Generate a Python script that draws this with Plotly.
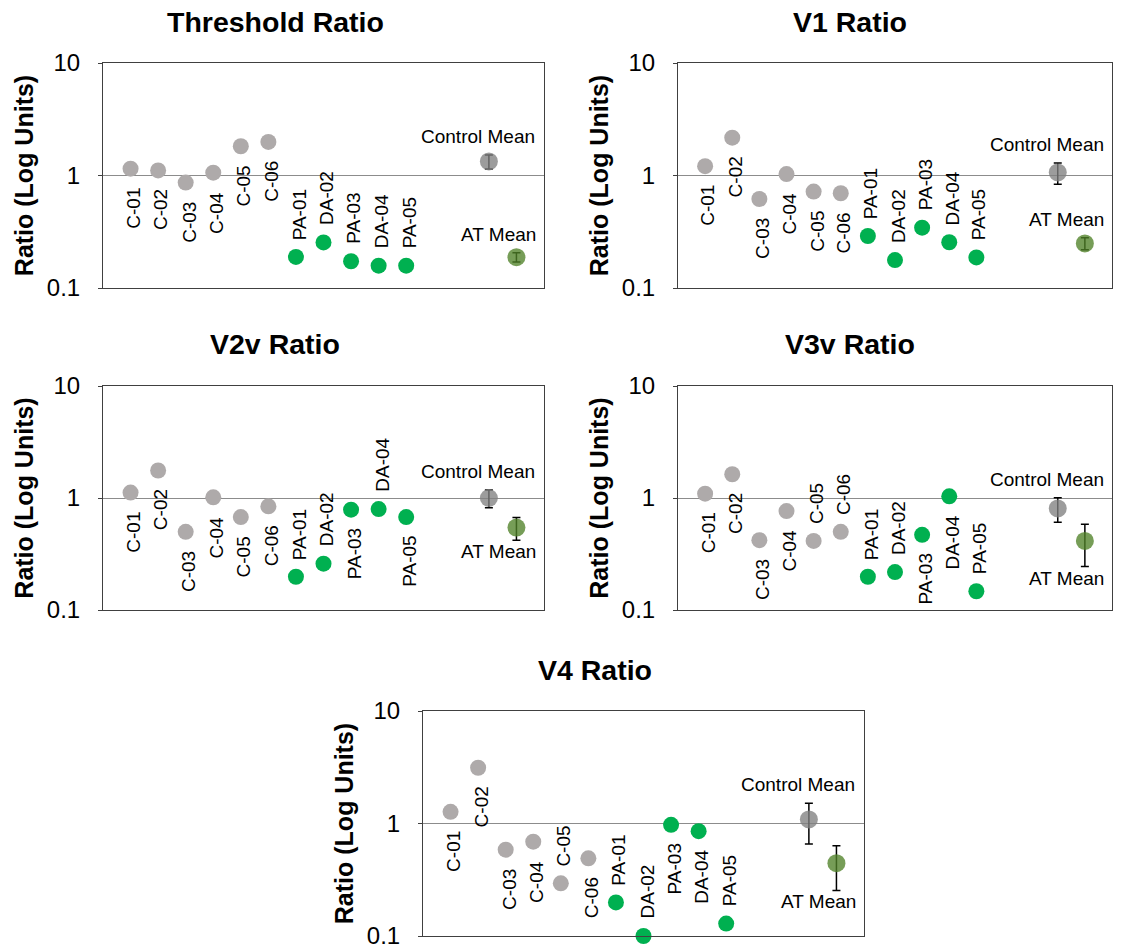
import math
import plotly.graph_objects as go

# ---- data ---------------------------------------------------------------
subjects = ["C-01", "C-02", "C-03", "C-04", "C-05", "C-06",
            "PA-01", "DA-02", "PA-03", "DA-04", "PA-05"]
n_controls = 6
mean_names = ["Control Mean", "AT Mean"]

panel_titles = ["Threshold Ratio", "V1 Ratio", "V2v Ratio", "V3v Ratio", "V4 Ratio"]

threshold_ratio = [1.15, 1.11, 0.865, 1.06, 1.82, 1.99, 0.189, 0.254, 0.173, 0.158, 0.158]
v1_ratio = [1.21, 2.17, 0.618, 1.03, 0.719, 0.695, 0.290, 0.177, 0.344, 0.255, 0.187]
v2v_ratio = [1.117, 1.76, 0.499, 1.014, 0.675, 0.842, 0.198, 0.259, 0.786, 0.797, 0.675]
v3v_ratio = [1.094, 1.63, 0.420, 0.764, 0.414, 0.499, 0.198, 0.218, 0.469, 1.035, 0.147]
v4_ratio = [1.27, 3.13, 0.585, 0.690, 0.294, 0.490, 0.199, 0.100, 0.973, 0.854, 0.129]

threshold_means = [1.335, 0.188]
threshold_sem = [0.19, 0.018]
v1_means = [1.064, 0.249]
v1_sem = [0.23, 0.03]
v2v_means = [1.0, 0.545]
v2v_sem = [0.18, 0.125]
v3v_means = [0.807, 0.414]
v3v_sem = [0.20, 0.17]
v4_means = [1.086, 0.444]
v4_sem = [0.43, 0.19]

# data-label placement ("a" = above the marker, "b" = below)
threshold_lab = ["b", "b", "b", "b", "b", "b", "a", "a", "a", "a", "a"]
v1_lab = ["b", "b", "b", "b", "b", "b", "a", "a", "a", "a", "a"]
v2v_lab = ["b", "b", "b", "b", "b", "b", "a", "a", "b", "a", "b"]
v3v_lab = ["b", "b", "b", "b", "a", "a", "a", "a", "b", "b", "a"]
v4_lab = ["b", "b", "b", "b", "a", "b", "a", "a", "b", "b", "a"]

threshold_mean_lab = ["a", "a"]
v1_mean_lab = ["a", "a"]
v2v_mean_lab = ["a", "b"]
v3v_mean_lab = ["a", "b"]
v4_mean_lab = ["a", "b"]

# ---- layout / style -----------------------------------------------------
W, H = 1128, 951
FONT = "Arial, 'Liberation Sans', sans-serif"
GRAY = "#AEAAAA"
GREEN = "#00B050"
MEAN_COLORS = ["rgba(128,128,128,0.78)", "rgba(79,129,40,0.78)"]
FRAME = "#404040"
GRID = "#8C8C8C"

# plot-area boxes in pixels: left, top, right, bottom
boxes = [
    (103, 63, 544, 288),
    (678, 63, 1112, 288),
    (103, 386, 544, 610),
    (678, 386, 1112, 610),
    (423, 711, 864, 936),
]
title_pos = [(275, 22), (850, 22), (275, 344), (850, 344), (595, 670)]

panels = [
    (threshold_ratio, threshold_lab, threshold_means, threshold_sem, threshold_mean_lab),
    (v1_ratio, v1_lab, v1_means, v1_sem, v1_mean_lab),
    (v2v_ratio, v2v_lab, v2v_means, v2v_sem, v2v_mean_lab),
    (v3v_ratio, v3v_lab, v3v_means, v3v_sem, v3v_mean_lab),
    (v4_ratio, v4_lab, v4_means, v4_sem, v4_mean_lab),
]

subject_x = list(range(1, len(subjects) + 1))
mean_x = [len(subjects) + 3, len(subjects) + 4]

fig = go.Figure()
annotations = []
layout_axes = {}

for i, (vals, labs, means, sems, mlabs) in enumerate(panels):
    sfx = "" if i == 0 else str(i + 1)
    xa, ya = "x" + sfx, "y" + sfx
    colors = [GRAY] * n_controls + [GREEN] * (len(subjects) - n_controls)

    fig.add_trace(go.Scatter(
        x=subject_x, y=vals, mode="markers",
        marker=dict(size=16, color=colors, line=dict(width=0)),
        xaxis=xa, yaxis=ya, cliponaxis=False, showlegend=False,
        hovertext=subjects,
    ))
    for k in range(2):
        fig.add_trace(go.Scatter(
            x=[mean_x[k]], y=[means[k]], mode="markers",
            marker=dict(size=18, color=MEAN_COLORS[k], line=dict(width=0)),
            error_y=dict(type="data", array=[sems[k]], color="black",
                         thickness=1.5, width=4),
            xaxis=xa, yaxis=ya, cliponaxis=False, showlegend=False,
            hovertext=[mean_names[k]],
        ))

    # rotated subject labels
    for xv, yv, name, pos in zip(subject_x, vals, subjects, labs):
        annotations.append(dict(
            x=xv, y=math.log10(yv), xref=xa, yref=ya, text=name,
            textangle=-90, showarrow=False, xshift=3,
            yanchor="bottom" if pos == "a" else "top",
            yshift=15 if pos == "a" else -17,
            font=dict(family=FONT, size=19, color="black"),
        ))

    # mean labels sit just past the end of the error bar
    for k in range(2):
        if mlabs[k] == "a":
            yv, anc, ysh = means[k] + sems[k], "bottom", 6
        else:
            yv, anc, ysh = means[k] - sems[k], "top", 1
        annotations.append(dict(
            x=mean_x[k], y=math.log10(yv), xref=xa, yref=ya,
            text=mean_names[k], showarrow=False,
            xshift=-11 if k == 0 else -18, yanchor=anc, yshift=ysh,
            font=dict(family=FONT, size=19, color="black"),
        ))

    # panel title
    tx, ty = title_pos[i]
    annotations.append(dict(
        x=tx / W, y=1 - ty / H, xref="paper", yref="paper",
        text="<b>%s</b>" % panel_titles[i], showarrow=False,
        xanchor="center", yanchor="middle",
        font=dict(family=FONT, size=28.5, color="black"),
    ))

    l, t, r, b = boxes[i]
    layout_axes["xaxis" + sfx] = dict(
        domain=[l / W, r / W], range=[0, len(subjects) + 5], anchor=ya,
        showline=True, mirror=True, linecolor=FRAME, linewidth=1,
        showgrid=False, zeroline=False, showticklabels=False, ticks="",
        automargin=False, fixedrange=True,
    )
    layout_axes["yaxis" + sfx] = dict(
        domain=[1 - b / H, 1 - t / H], type="log", range=[-1, 1], anchor=xa,
        tickvals=[0.1, 1, 10], ticktext=["0.1", "1", "10"],
        showline=True, mirror=True, linecolor=FRAME, linewidth=1,
        ticks="outside", ticklen=4, tickcolor=FRAME,
        showgrid=True, gridcolor=GRID, gridwidth=1, zeroline=False,
        tickfont=dict(family=FONT, size=24, color="black"),
        ticklabelstandoff=13,
        title=dict(text="<b>Ratio (Log Units)</b>", standoff=6,
                   font=dict(family=FONT, size=25, color="black")),
        automargin=False, fixedrange=True,
    )

fig.update_layout(
    width=W, height=H,
    margin=dict(l=0, r=0, t=0, b=0),
    paper_bgcolor="white", plot_bgcolor="white",
    annotations=annotations,
    **layout_axes,
)

fig.write_html("out.html")
